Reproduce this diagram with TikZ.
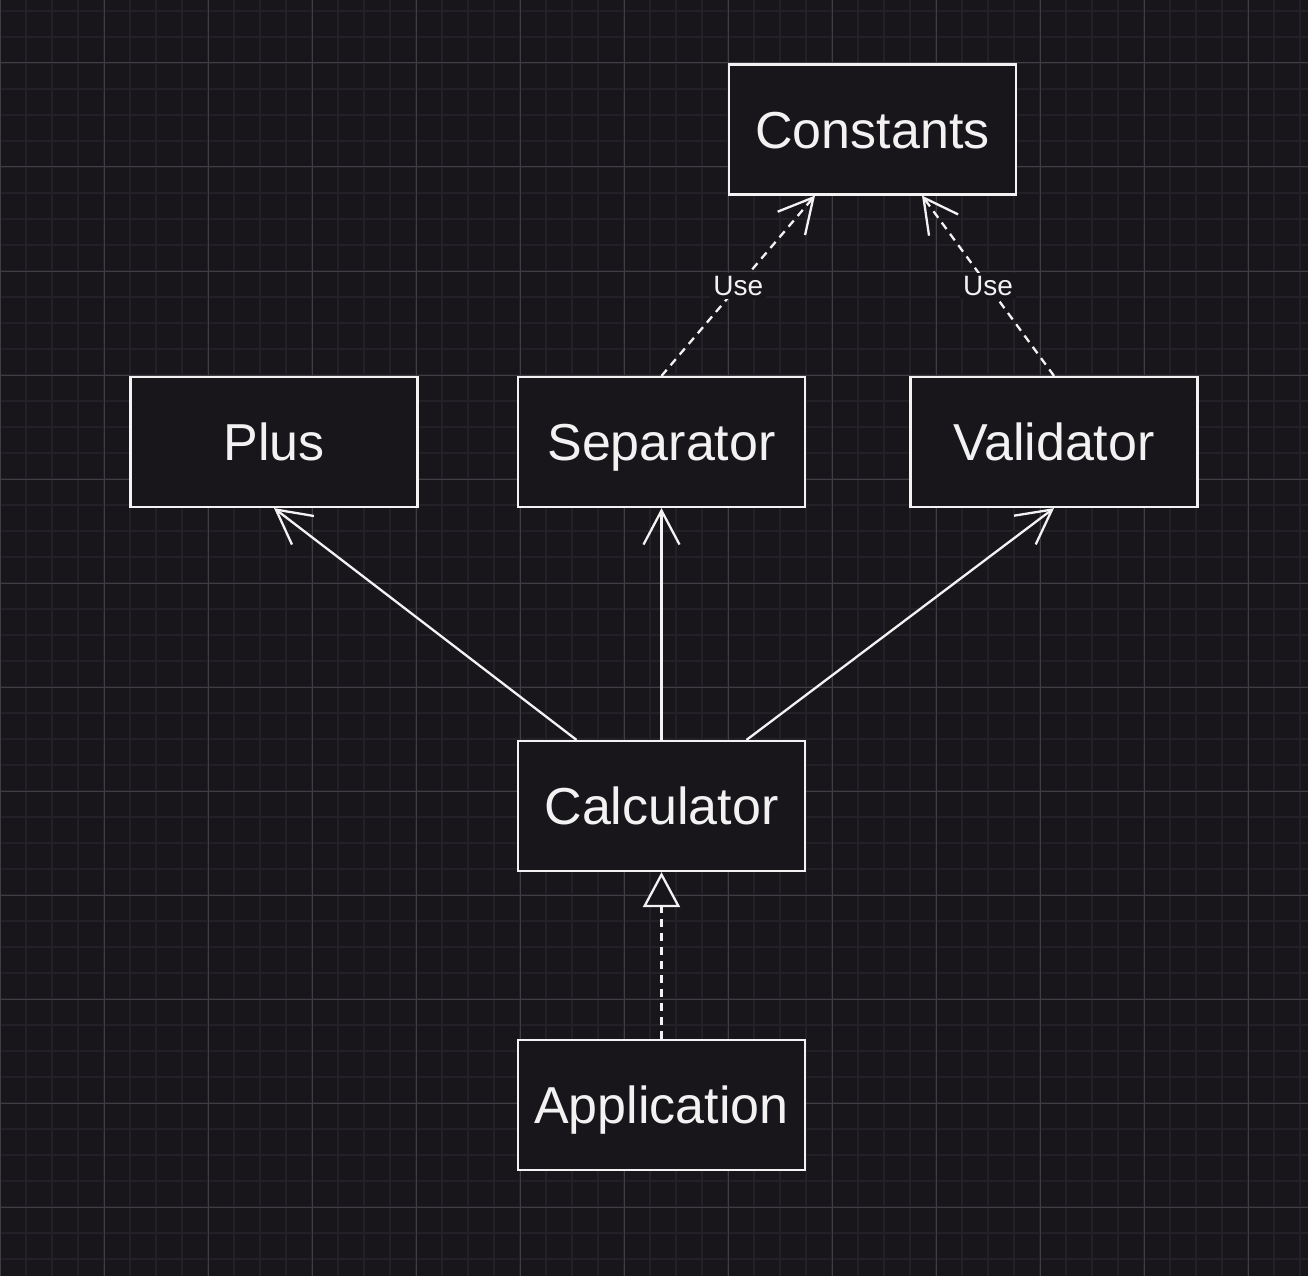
\documentclass[tikz,border=0pt]{standalone}
\usepackage{fontspec}
\setmainfont{Liberation Sans}
\usetikzlibrary{arrows.meta,calc}
\definecolor{bg}{HTML}{18161B}
\definecolor{gridminor}{HTML}{232127}
\definecolor{gridmajor}{HTML}{3F3E43}
\definecolor{ink}{HTML}{F2F2F2}
\tikzset{
  umlbox/.style={draw=ink, line width=2.2pt, fill=bg, text=ink, minimum width=287pt, minimum height=130pt, inner sep=0pt, text height=37.5pt, text depth=0pt, font=\fontsize{52}{60}\selectfont},
  assoc/.style={draw=ink, line width=2.3pt, -{Straight Barb[length=34pt,width=36pt,line width=2.3pt]}},
  usedep/.style={draw=ink, line width=2.3pt, dash pattern=on 8pt off 6pt, -{Straight Barb[length=34pt,width=36pt,line width=2.3pt]}},
  realize/.style={draw=ink, line width=2.3pt, dash pattern=on 8pt off 6pt, -{Triangle[open, length=35pt, width=37pt, line width=2.3pt, fill=bg]}},
  uselabel/.style={fill=bg, text=ink, inner sep=3pt, font=\fontsize{28}{30}\selectfont}
}
\begin{document}
\begin{tikzpicture}[x=1pt, y=-1pt]
\fill[bg] (0,0) rectangle (1308,1276);
\useasboundingbox (0,0) rectangle (1308,1276);
% minor grid
\foreach \gx in {0,26,...,1308} {\draw[gridminor, line width=1.6pt] (\gx,0) -- (\gx,1276);}
\foreach \gy in {11,37,...,1276} {\draw[gridminor, line width=1.6pt] (0,\gy) -- (1308,\gy);}
% major grid
\foreach \gx in {0,104,...,1308} {\draw[gridmajor, line width=1pt] (\gx,0) -- (\gx,1276);}
\foreach \gy in {63,167,...,1276} {\draw[gridmajor, line width=1pt] (0,\gy) -- (1308,\gy);}

\node[umlbox] (const) at (872.5,129.5) {Constants};
\node[umlbox] (plus) at (274,442) {Plus};
\node[umlbox] (sep) at (661.5,442) {Separator};
\node[umlbox] (valid) at (1054,442) {Validator};
\node[umlbox] (calc) at (661.5,806) {Calculator};
\node[umlbox] (app) at (661.5,1105) {Application};

\draw[usedep] (sep.north) -- node[uselabel] {Use} ($(const.south)+(-57.5,0)$);
\draw[usedep] (valid.north) -- node[uselabel] {Use} ($(const.south)+(49.5,0)$);
\draw[assoc] ($(calc.north)+(-85,0)$) -- (plus.south);
\draw[assoc] (calc.north) -- (sep.south);
\draw[assoc] ($(calc.north)+(85,0)$) -- (valid.south);
\draw[realize] (app.north) -- (calc.south);
\end{tikzpicture}
\end{document}
